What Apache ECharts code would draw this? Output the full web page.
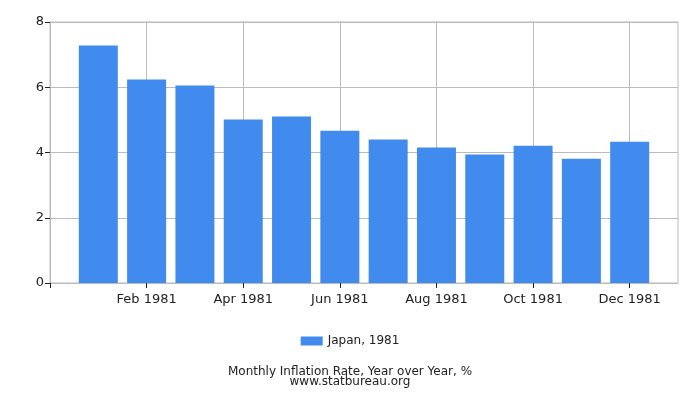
<!DOCTYPE html>
<html><head><meta charset="utf-8">
<script src="https://cdn.jsdelivr.net/npm/echarts@6/dist/echarts.min.js"></script>
<style>html,body{margin:0;padding:0;background:#fff}#c{width:700px;height:400px}</style>
</head><body><div id="c"></div>
<script>
const months = ["", "Jan 1981", "Feb 1981", "Mar 1981", "Apr 1981", "May 1981", "Jun 1981", "Jul 1981", "Aug 1981", "Sep 1981", "Oct 1981", "Nov 1981", "Dec 1981", ""];
const japan1981 = [null, 7.28, 6.24, 6.05, 5.01, 5.10, 4.67, 4.40, 4.15, 3.94, 4.21, 3.81, 4.33, null];
const yTicks = [0, 2, 4, 6, 8];
const seriesName = "Japan, 1981";

const chart = echarts.init(document.getElementById('c'));
chart.setOption({
  animation: false,
  textStyle: {fontFamily: 'DejaVu Sans'},
  grid: {left: 50, right: 22, top: 22, bottom: 117, show: true, borderColor: '#bbb', borderWidth: 1},
  legend: {
    data: [seriesName], bottom: 48, left: 'center', itemWidth: 22, itemHeight: 9, itemGap: 5,
    icon: 'rect',
    textStyle: {fontSize: 12, color: '#222', fontFamily: 'DejaVu Sans'}
  },
  title: {
    text: 'Monthly Inflation Rate, Year over Year, %',
    subtext: 'www.statbureau.org',
    left: 'center', bottom: 7, itemGap: -2,
    textStyle: {fontSize: 12, fontWeight: 'normal', color: '#222', fontFamily: 'DejaVu Sans', lineHeight: 12},
    subtextStyle: {fontSize: 12, color: '#222', fontFamily: 'DejaVu Sans', lineHeight: 12}
  },
  xAxis: {
    type: 'category', data: months, boundaryGap: false,
    axisLine: {lineStyle: {color: '#bbb'}},
    axisTick: {interval: 1, length: 5, lineStyle: {color: '#222'}},
    axisLabel: {interval: 1, fontSize: 13, color: '#222', margin: 10},
    splitLine: {show: true, interval: 1, lineStyle: {color: '#bbb'}}
  },
  yAxis: {
    type: 'value', min: yTicks[0], max: yTicks[yTicks.length - 1], interval: 2,
    axisLine: {show: true, lineStyle: {color: '#bbb'}},
    axisTick: {show: true, length: 5, lineStyle: {color: '#222'}},
    axisLabel: {fontSize: 13, color: '#222', margin: 6},
    splitLine: {lineStyle: {color: '#bbb'}}
  },
  series: [{
    name: seriesName, type: 'bar', data: japan1981, barWidth: 39,
    itemStyle: {color: '#428bee'}
  }]
});
</script></body></html>
